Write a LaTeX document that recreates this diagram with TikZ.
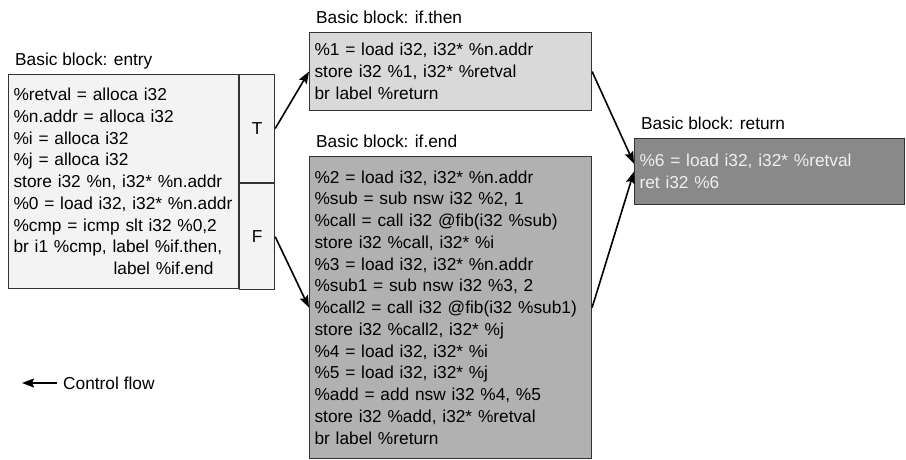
\documentclass[tikz,border=0pt]{standalone}
\usepackage{fontspec}
\setmainfont{Liberation Sans}
\usetikzlibrary{arrows.meta,positioning}
\definecolor{entryfill}{HTML}{F3F3F3}
\definecolor{thenfill}{HTML}{D9D9D9}
\definecolor{endfill}{HTML}{B1B1B1}
\definecolor{retfill}{HTML}{898989}
\definecolor{edgegray}{HTML}{333333}
\tikzset{
    irtext/.style={font=\fontsize{17.3}{21.75}\selectfont},
    bblock/.style={irtext, draw=edgegray, line width=1.1pt, rectangle, anchor=north west,
        align=left, inner xsep=5pt, inner ysep=0pt},
    branch/.style={irtext, draw=edgegray, line width=1.1pt, rectangle, anchor=north west,
        minimum width=35pt, inner sep=0pt, fill=entryfill},
    title/.style={irtext, anchor=base west, inner sep=0pt},
    flow/.style={line width=1.6pt, -{Stealth[length=12pt,width=9pt,inset=2pt]}}
}
\begin{document}
\begin{tikzpicture}[x=1pt,y=-1pt]
    \useasboundingbox (0,0) rectangle (906,459);
    % basic blocks
    \node[bblock, fill=entryfill, text width=220pt, minimum height=214pt] (entry) at (8,74) {%
        \%retval = alloca i32\\
        \%n.addr = alloca i32\\
        \%i = alloca i32\\
        \%j = alloca i32\\
        store i32 \%n, i32* \%n.addr\\
        \%0 = load i32, i32* \%n.addr\\
        \%cmp = icmp slt i32 \%0,2\\
        br i1 \%cmp, label \%if.then,\\
        \hspace*{100pt}label \%if.end};
    \node[branch, minimum height=108pt] (T) at (entry.north east) {T};
    \node[branch, minimum height=106pt] (F) at (T.south west) {F};
    \node[bblock, fill=thenfill, text width=272pt, minimum height=78pt] (then) at (309,32) {%
        \%1 = load i32, i32* \%n.addr\\
        store i32 \%1, i32* \%retval\\
        br label \%return};
    \node[bblock, fill=endfill, text width=272pt, minimum height=302pt] (ifend) at (309,156) {%
        \%2 = load i32, i32* \%n.addr\\
        \%sub = sub nsw i32 \%2, 1\\
        \%call = call i32 @fib(i32 \%sub)\\
        store i32 \%call, i32* \%i\\
        \%3 = load i32, i32* \%n.addr\\
        \%sub1 = sub nsw i32 \%3, 2\\
        \%call2 = call i32 @fib(i32 \%sub1)\\
        store i32 \%call2, i32* \%j\\
        \%4 = load i32, i32* \%i\\
        \%5 = load i32, i32* \%j\\
        \%add = add nsw i32 \%4, \%5\\
        store i32 \%add, i32* \%retval\\
        br label \%return};
    \node[bblock, fill=retfill, text=white!94!black, text width=260pt, minimum height=66pt] (ret) at (634,138) {%
        \%6 = load i32, i32* \%retval\\
        ret i32 \%6};
    \foreach \n/\t in {entry/entry, then/if.then, ifend/if.end, ret/return}
        \node[title] (title-\n) at ([shift={(7,-9)}]\n.north west) {Basic block: \t};
    % control flow
    \draw[flow] (T.east) -- (then.west);
    \draw[flow] (F.east) -- (ifend.west);
    \draw[flow] (then.east) -- ([yshift=8pt]ret.west);
    \draw[flow] (ifend.east) -- (ret.west);
    % legend
    \node[irtext, anchor=west, inner xsep=6pt] (legend) at (57,383) {Control flow};
    \coordinate (legend-head) at (22,383);
    \draw[flow] (legend.west) -- (legend-head);
\end{tikzpicture}
\end{document}
